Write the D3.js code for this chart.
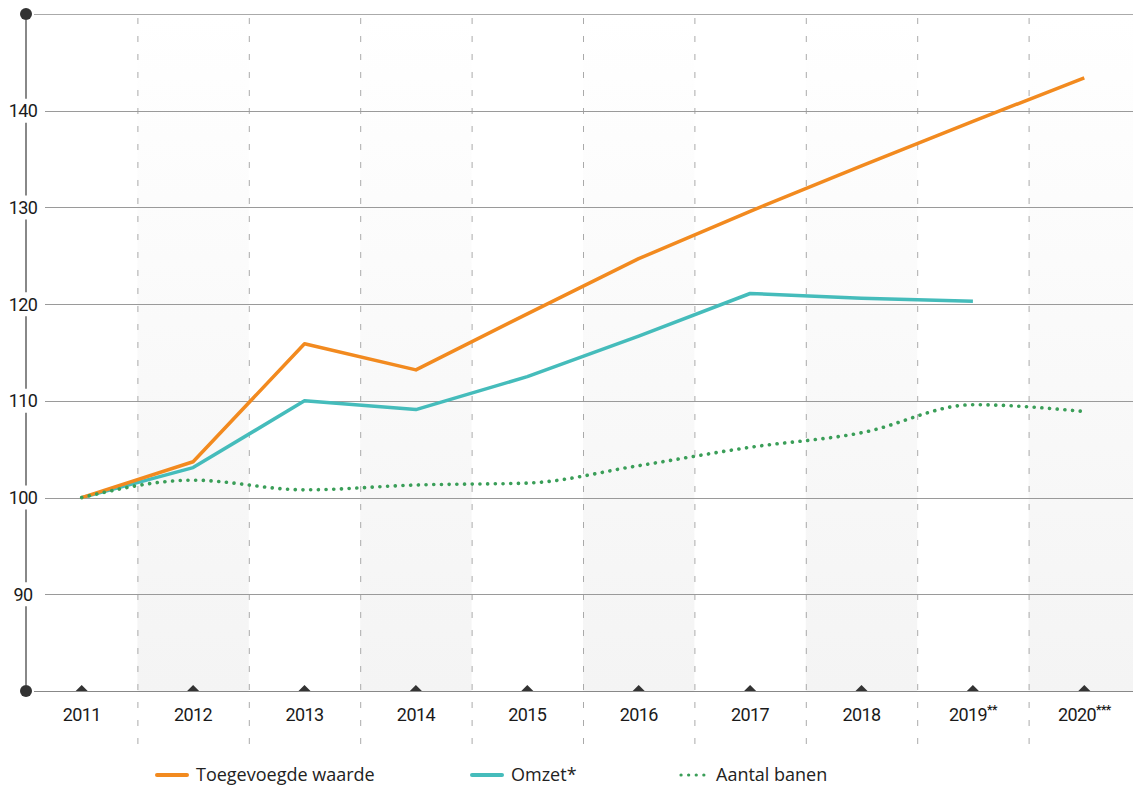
<!DOCTYPE html>
<html>
<head>
<meta charset="utf-8">
<script src="https://cdn.jsdelivr.net/npm/d3@7"></script>
<style>
  body { margin: 0; background: #fff; }
  svg { display: block; }
</style>
</head>
<body>
<script>
const years = [2011, 2012, 2013, 2014, 2015, 2016, 2017, 2018, 2019, 2020];
const yearNotes = ['', '', '', '', '', '', '', '', '**', '***'];
const toegevoegd = [100, 103.7, 115.9, 113.2, 119.0, 124.7, 129.6, 134.3, 138.9, 143.4];
const omzet = [100, 103.1, 110.0, 109.1, 112.5, 116.7, 121.1, 120.6, 120.3];
const banen = [100, 101.8, 100.8, 101.3, 101.5, 103.3, 105.2, 106.7, 109.6, 108.9];
const yTicks = [90, 100, 110, 120, 130, 140];
const seriesNames = ['Toegevoegde waarde', 'Omzet*', 'Aantal banen'];
const seriesColors = ['#f28a1f', '#45bcbb', '#3a9e58'];

const W = 1133, H = 787;
const svg = d3.select('body').append('svg')
    .attr('width', W)
    .attr('height', H);

const pLeft = 26, pRight = 1140, pTop = 14, pBottom = 691;
const axisFont = 'Roboto, "Open Sans", sans-serif';

const x = d3.scaleBand()
    .domain(years)
    .range([pLeft, pRight]);

const y = d3.scaleLinear()
    .domain([80, 150])
    .range([pBottom, pTop]);

const defs = svg.append('defs');
const grad = defs.append('linearGradient')
    .attr('id', 'bandGrad')
    .attr('x1', 0).attr('y1', 0).attr('x2', 0).attr('y2', 1);
grad.append('stop').attr('offset', '0%').attr('stop-color', '#ffffff');
grad.append('stop').attr('offset', '100%').attr('stop-color', '#f4f4f4');

// alternating shaded columns
svg.selectAll('rect.band')
    .data(years.filter((d, i) => i % 2 === 1))
    .enter()
    .append('rect')
    .attr('class', 'band')
    .attr('x', d => x(d))
    .attr('y', pTop)
    .attr('width', x.bandwidth())
    .attr('height', pBottom - pTop)
    .attr('fill', 'url(#bandGrad)');

// vertical dashed separators
svg.selectAll('line.vsep')
    .data(years.slice(1))
    .enter()
    .append('line')
    .attr('class', 'vsep')
    .attr('x1', d => x(d) + 0.5)
    .attr('x2', d => x(d) + 0.5)
    .attr('y1', pTop + 4)
    .attr('y2', 745)
    .attr('stroke', '#aaa')
    .attr('stroke-width', 1)
    .attr('stroke-dasharray', '6 12');

// horizontal gridlines
svg.selectAll('line.hgrid')
    .data(yTicks)
    .enter()
    .append('line')
    .attr('class', 'hgrid')
    .attr('x1', 45)
    .attr('x2', W)
    .attr('y1', d => Math.round(y(d)) + 0.5)
    .attr('y2', d => Math.round(y(d)) + 0.5)
    .attr('stroke', '#9a9a9a')
    .attr('stroke-width', 1);

// top line
svg.append('line')
    .attr('x1', 34).attr('x2', W)
    .attr('y1', y(150) + 0.5).attr('y2', y(150) + 0.5)
    .attr('stroke', '#aaa').attr('stroke-width', 1);

// vertical axis segments, broken around labels
const ySegs = [150].concat(yTicks.slice().reverse()).concat([80]);
for (let i = 0; i < ySegs.length - 1; i++) {
    const a = y(ySegs[i]), b = y(ySegs[i + 1]);
    const ta = (i === 0) ? a + 6 : a + 12;
    const tb = (i === ySegs.length - 2) ? b - 6 : b - 12;
    svg.append('line')
        .attr('x1', pLeft).attr('x2', pLeft)
        .attr('y1', ta).attr('y2', tb)
        .attr('stroke', '#888').attr('stroke-width', 2);
}

// y labels
svg.selectAll('text.ylab')
    .data(yTicks)
    .enter()
    .append('text')
    .attr('class', 'ylab')
    .attr('x', 23)
    .attr('y', d => y(d) + 6.5)
    .attr('text-anchor', 'middle')
    .attr('font-family', axisFont)
    .attr('font-size', '18px')
    .attr('letter-spacing', '-0.6px')
    .attr('fill', '#1a1a1a')
    .text(d => d);

// bottom axis line
svg.append('line')
    .attr('x1', 34).attr('x2', W)
    .attr('y1', pBottom + 0.5).attr('y2', pBottom + 0.5)
    .attr('stroke', '#888').attr('stroke-width', 1.2);

// end dots
svg.selectAll('circle.end')
    .data([150, 80])
    .enter()
    .append('circle')
    .attr('cx', pLeft)
    .attr('cy', d => y(d))
    .attr('r', 6)
    .attr('fill', '#333');

// tick triangles
svg.selectAll('path.tri')
    .data(years)
    .enter()
    .append('path')
    .attr('d', d => {
        const c = x(d) + x.bandwidth() / 2;
        return `M${c - 6},${pBottom} L${c},${pBottom - 6} L${c + 6},${pBottom} Z`;
    })
    .attr('fill', '#333');

// x labels
const xl = svg.selectAll('text.xlab')
    .data(years)
    .enter()
    .append('text')
    .attr('class', 'xlab')
    .attr('x', d => x(d) + x.bandwidth() / 2)
    .attr('y', 721)
    .attr('text-anchor', 'middle')
    .attr('font-family', axisFont)
    .attr('font-size', '18px')
    .attr('letter-spacing', '-0.6px')
    .attr('fill', '#1a1a1a');
xl.append('tspan').text(d => d);
xl.append('tspan')
    .attr('dy', -7)
    .attr('font-size', '12px')
    .attr('font-weight', 'bold')
    .text((d, i) => yearNotes[i]);

const cx = d => x(d) + x.bandwidth() / 2;
const line = d3.line()
    .x(d => cx(d[0]))
    .y(d => y(d[1]));

svg.append('path')
    .datum(d3.zip(years.slice(0, omzet.length), omzet))
    .attr('d', line)
    .attr('fill', 'none')
    .attr('stroke', seriesColors[1])
    .attr('stroke-width', 3.5)
    .attr('stroke-linejoin', 'round');

svg.append('path')
    .datum(d3.zip(years, toegevoegd))
    .attr('d', line)
    .attr('fill', 'none')
    .attr('stroke', seriesColors[0])
    .attr('stroke-width', 3.5)
    .attr('stroke-linejoin', 'round');

svg.append('path')
    .datum(d3.zip(years, banen))
    .attr('d', line.curve(d3.curveMonotoneX))
    .attr('fill', 'none')
    .attr('stroke', seriesColors[2])
    .attr('stroke-width', 3.6)
    .attr('stroke-linecap', 'round')
    .attr('stroke-dasharray', '0.1 7.6');

// legend
const legX = [157, 472, 681];
const legend = svg.selectAll('g.leg')
    .data(seriesNames)
    .enter()
    .append('g')
    .attr('transform', (d, i) => `translate(${legX[i]}, 775)`);

legend.append('line')
    .attr('x1', 0).attr('x2', (d, i) => i === 2 ? 24 : 30)
    .attr('y1', 0).attr('y2', 0)
    .attr('stroke', (d, i) => seriesColors[i])
    .attr('stroke-width', (d, i) => i === 2 ? 3.2 : 4)
    .attr('stroke-linecap', 'round')
    .attr('stroke-dasharray', (d, i) => i === 2 ? '0.1 7.5' : null);

legend.append('text')
    .attr('x', (d, i) => i === 2 ? 35 : 39)
    .attr('y', 6)
    .attr('font-family', '"Open Sans", Lato, sans-serif')
    .attr('font-size', '18px')
    .attr('fill', '#222')
    .text(d => d);
</script>
</body>
</html>
